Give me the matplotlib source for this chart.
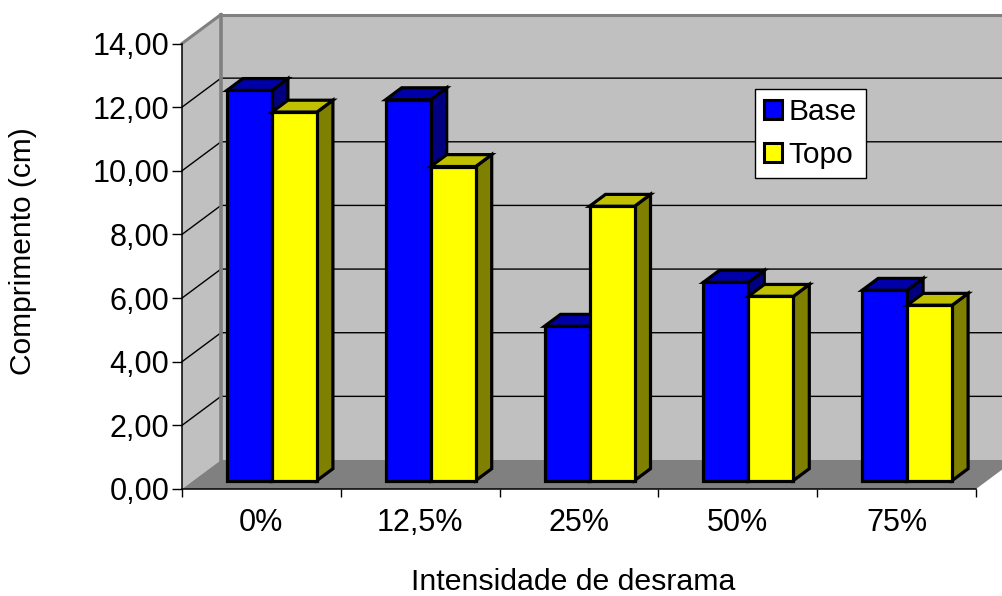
import matplotlib
matplotlib.use('Agg')
import matplotlib.pyplot as plt
from matplotlib.patches import Polygon, Patch

categories = ['0%', '12,5%', '25%', '50%', '75%']
base = [12.26, 11.97, 4.85, 6.23, 5.98]
topo = [11.58, 9.87, 8.62, 5.79, 5.51]
y_ticks = [0, 2, 4, 6, 8, 10, 12, 14]
y_labels = ['0,00', '2,00', '4,00', '6,00', '8,00', '10,00', '12,00', '14,00']

plt.rcParams['font.family'] = ['Liberation Sans', 'DejaVu Sans']

W, H = 1002, 596
fig = plt.figure(figsize=(W / 100, H / 100), dpi=100)
ax = fig.add_axes([182 / W, (H - 489) / H, 794 / W, 445.5 / H])
ax.set_xlim(0, len(categories))
ax.set_ylim(0, 14)

# depth of the fake 3d box, in data units
DX = 39 / (794 / 5)
DY = 29 / (445.5 / 14)


def pt(x, y, d=0.0):
    return (x + d * DX, y + d * DY)


def poly(points, color, edge='none', lw=0.0, z=1):
    ax.add_patch(Polygon(points, closed=True, facecolor=color, edgecolor=edge,
                         linewidth=lw, zorder=z, clip_on=False, joinstyle='miter'))


# walls and floor
GREY = '#808080'
WALL = '#c0c0c0'
poly([pt(0, 0, 1), pt(5, 0, 1), pt(5, 14, 1), pt(0, 14, 1)], WALL, z=1)
poly([pt(0, 0), pt(0, 0, 1), pt(0, 14, 1), pt(0, 14)], WALL, z=1)
poly([pt(0, 0), pt(5, 0), pt(5, 0, 1), pt(0, 0, 1)], GREY, z=1.5)

for v in y_ticks[1:-1]:
    a, b, c = pt(0, v), pt(0, v, 1), pt(5, v, 1)
    ax.plot([a[0], b[0], c[0]], [a[1], b[1], c[1]], color='black', lw=1.0,
            zorder=1.2, clip_on=False)

# grey border of the walls
a, b, c, d = pt(0, 14), pt(0, 14, 1), pt(5, 14, 1), pt(0, 0, 1)
ax.plot([a[0], b[0]], [a[1], b[1]], color=GREY, lw=2.2, zorder=1.3, clip_on=False)
ax.plot([b[0], c[0]], [b[1], c[1]], color=GREY, lw=2.2, zorder=1.3, clip_on=False)
ax.plot([b[0], d[0]], [b[1], d[1]], color=GREY, lw=2.6, zorder=1.3, clip_on=False)

# bars
BAR_W = 45 / (794 / 5)
D0 = 0.29
D1 = 0.70
GAP = (1 - 2 * BAR_W) / 2 - 0.005
LW = 2.3


def bar3d(x, h, front, top, side, z):
    poly([pt(x + BAR_W, 0, D0), pt(x + BAR_W, 0, D1), pt(x + BAR_W, h, D1), pt(x + BAR_W, h, D0)],
         side, 'black', LW, z)
    poly([pt(x, h, D0), pt(x, h, D1), pt(x + BAR_W, h, D1), pt(x + BAR_W, h, D0)],
         top, 'black', LW, z)
    poly([pt(x, 0, D0), pt(x + BAR_W, 0, D0), pt(x + BAR_W, h, D0), pt(x, h, D0)],
         front, 'black', LW, z)


for i in range(len(categories)):
    x = i + GAP
    bar3d(x, base[i], '#0000ff', '#0000a8', '#000080', 3 + i)
    bar3d(x + BAR_W, topo[i], '#ffff00', '#c0c000', '#808000', 3.5 + i)

# axes, ticks
for s in ['top', 'right']:
    ax.spines[s].set_visible(False)
ax.patch.set_visible(False)
ax.spines['left'].set_zorder(2)
ax.spines['bottom'].set_zorder(2)
ax.spines['left'].set_linewidth(1.1)
ax.spines['bottom'].set_linewidth(1.1)

ax.set_yticks(y_ticks)
ax.set_yticklabels(y_labels, fontsize=22)
ax.tick_params(axis='y', length=7, width=1.0, pad=2)
ax.set_xticks(range(len(categories) + 1))
ax.set_xticklabels([])
ax.set_xticks([i + 0.5 for i in range(len(categories))], minor=True)
ax.set_xticklabels(categories, minor=True, fontsize=22)
ax.tick_params(axis='x', which='major', length=6, width=1.0)
ax.tick_params(axis='x', which='minor', length=0, pad=14)

fig.text(573 / W, 1 - 582 / H, 'Intensidade de desrama', fontsize=21.8, ha='center', va='center')
fig.text(23 / W, 1 - 251 / H, 'Comprimento (cm)', fontsize=21.5, rotation=90, ha='center', va='center')

# legend
handles = [Patch(facecolor='#0000ff', edgecolor='black', linewidth=2.2, label='Base'),
           Patch(facecolor='#ffff00', edgecolor='black', linewidth=2.2, label='Topo')]
leg = ax.legend(handles=handles, loc='upper left', bbox_to_anchor=(755 / W, 1 - 89 / H),
                bbox_transform=fig.transFigure, fontsize=21.5, fancybox=False, framealpha=1,
                edgecolor='black', handlelength=0.62, handleheight=0.62, handletextpad=0.2,
                labelspacing=0.5, borderpad=0.3, borderaxespad=0)
leg.set_zorder(20)
leg.get_frame().set_linewidth(1.0)

fig.savefig('out.png', dpi=100)
